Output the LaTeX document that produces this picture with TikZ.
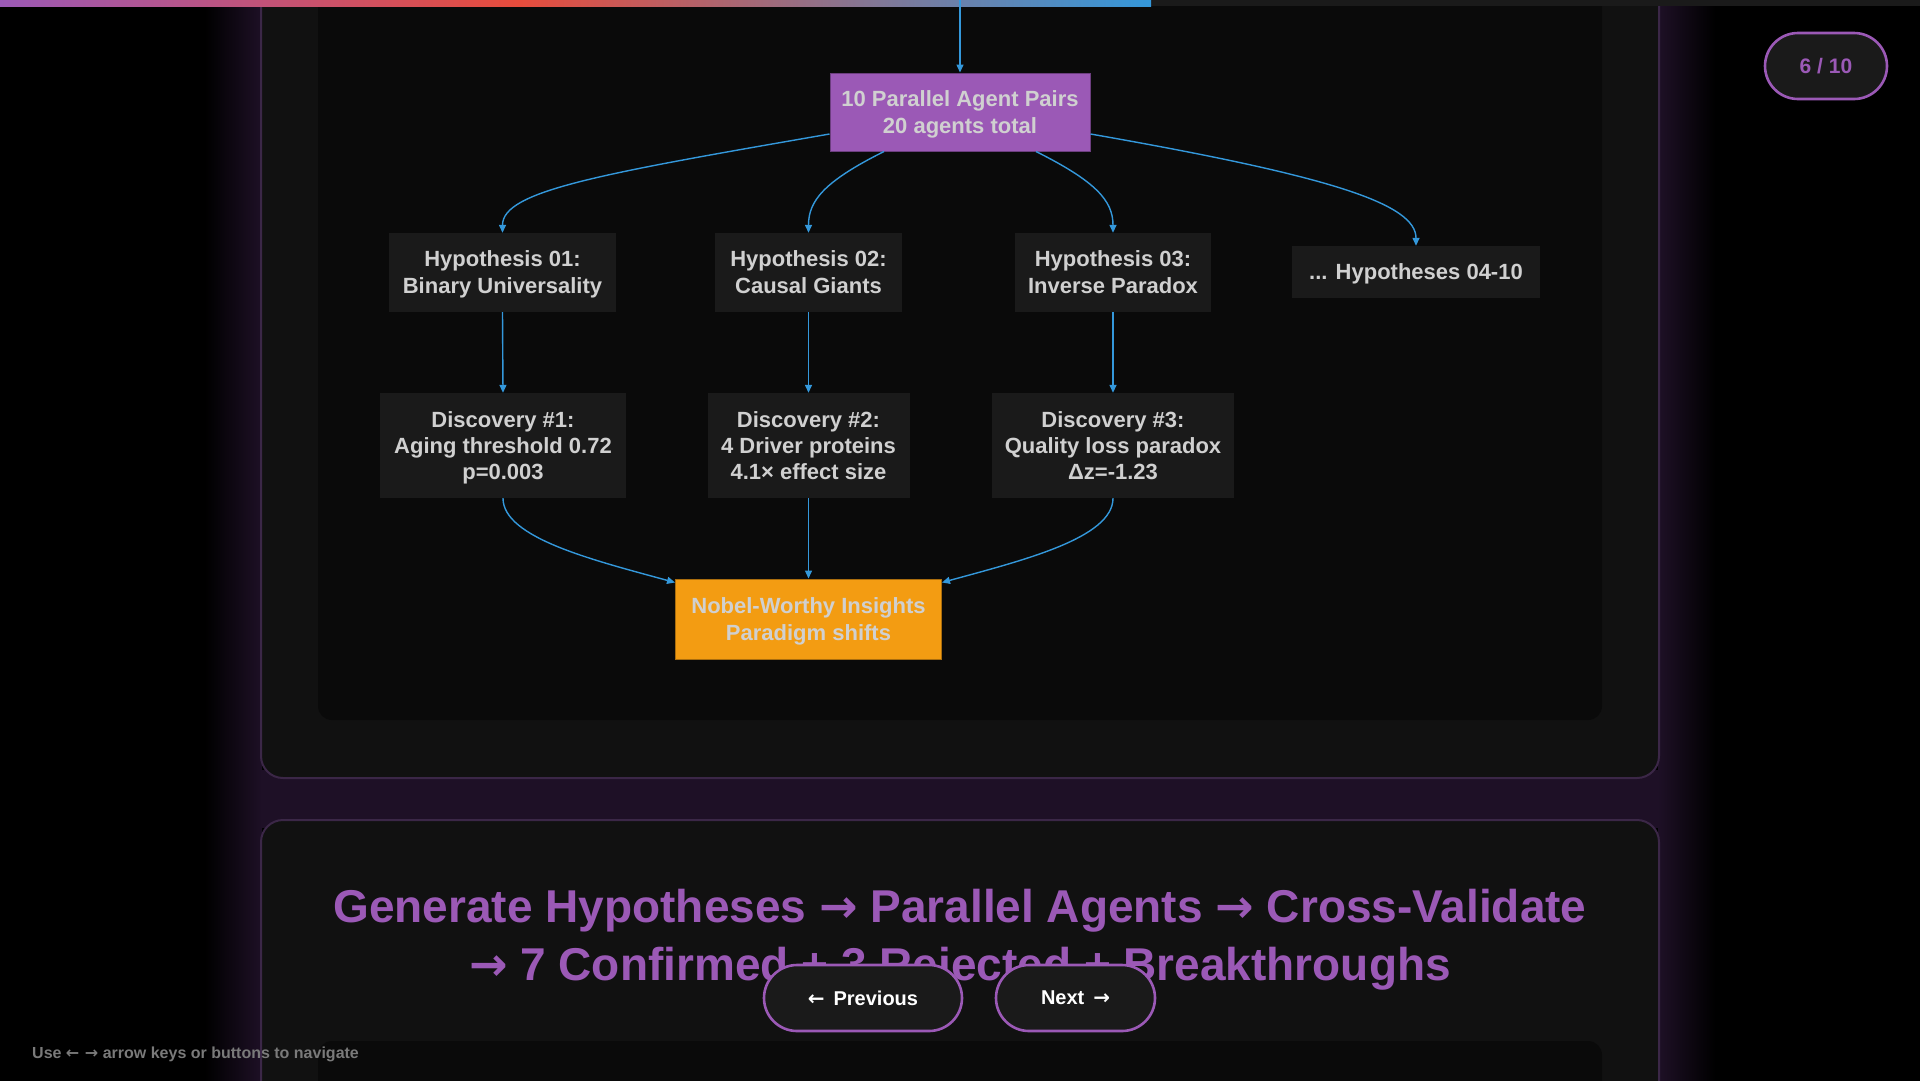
\documentclass[tikz,border=0pt]{standalone}
\usepackage{fontspec}
\setmainfont{Liberation Sans}
\newfontfamily\arrowfont{DejaVu Sans}
\usetikzlibrary{arrows.meta}
\definecolor{purp}{HTML}{9B59B6}
\definecolor{cred}{HTML}{E74C3C}
\definecolor{cblue}{HTML}{3498DB}
\definecolor{orng}{HTML}{F39C12}
\definecolor{nodegray}{HTML}{1A1A1A}
\definecolor{txt}{HTML}{D0D0D0}
\definecolor{panel}{HTML}{111111}
\definecolor{innerbg}{HTML}{0A0A0A}
\definecolor{pborder}{HTML}{3B2747}
\definecolor{glow}{HTML}{1E1026}
\definecolor{footgray}{HTML}{7A7A7A}
\pgfdeclarehorizontalshading{barshade}{100bp}{color(0bp)=(purp); color(25bp)=(purp); color(47.5bp)=(cred); color(75bp)=(cblue); color(100bp)=(cblue)}
\newcommand{\lnst}{\rule[-5.5pt]{0pt}{26pt}}
\tikzset{
  box/.style={fill=nodegray, text=txt, font=\bfseries\fontsize{22}{27}\selectfont, align=center, inner sep=0pt},
  conn/.style={draw=cblue, line width=1.4pt, -{Triangle[length=8pt,width=7pt]}},
  pill/.style={fill=nodegray, draw=purp, line width=2.6pt, rounded corners=33pt, inner sep=0pt, minimum height=66pt},
}
\begin{document}
\begin{tikzpicture}[x=1pt,y=-1pt]
\useasboundingbox (0,0) rectangle (1920,1080);
\fill[black] (-10,-10) rectangle (1930,1090);
\begin{scope}
\clip (0,0) rectangle (1920,1080);
% glow
\shade[left color=black, right color=glow] (205,-10) rectangle (262,1090);
\shade[left color=glow, right color=black] (1658,-10) rectangle (1715,1090);
\fill[glow] (261,770) rectangle (1659,828);
% panels
\draw[pborder, fill=panel, line width=2pt, rounded corners=22pt] (261,-40) rectangle (1659,778);
\fill[innerbg, rounded corners=14pt] (318,-40) rectangle (1602,720);
\draw[pborder, fill=panel, line width=2pt, rounded corners=22pt] (261,820) rectangle (1659,1120);
\fill[innerbg, rounded corners=14pt] (318,1041) rectangle (1602,1120);
% top bar
\fill[nodegray] (0,0) rectangle (1920,6);
\shade[shading=barshade] (0,0) rectangle (1151,6);
\end{scope}
% nodes
\node[box, fill=purp, draw=purp!70!black, line width=1pt, minimum width=260pt, minimum height=78pt] (agent) at (960,112) {\lnst 10 Parallel Agent Pairs\\\lnst 20 agents total};
\node[box, minimum width=227pt, minimum height=79pt] (h1) at (502.5,272.5) {\lnst Hypothesis 01:\\\lnst Binary Universality};
\node[box, minimum width=187pt, minimum height=79pt] (h2) at (808.5,272.5) {\lnst Hypothesis 02:\\\lnst Causal Giants};
\node[box, minimum width=196pt, minimum height=79pt] (h3) at (1113,272.5) {\lnst Hypothesis 03:\\\lnst Inverse Paradox};
\node[box, minimum width=248pt, minimum height=52pt] (h4) at (1416,272) {\lnst ... Hypotheses 04-10};
\node[box, minimum width=246pt, minimum height=105pt, font=\bfseries\fontsize{22}{26}\selectfont] (d1) at (503,445.5) {\lnst Discovery \#1:\\\lnst Aging threshold 0.72\\\lnst p=0.003};
\node[box, minimum width=202pt, minimum height=105pt, font=\bfseries\fontsize{22}{26}\selectfont] (d2) at (808.5,445.5) {\lnst Discovery \#2:\\\lnst 4 Driver proteins\\\lnst 4.1× effect size};
\node[box, minimum width=242pt, minimum height=105pt, font=\bfseries\fontsize{22}{26}\selectfont] (d3) at (1113,445.5) {\lnst Discovery \#3:\\\lnst Quality loss paradox\\\lnst Δz=-1.23};
\node[box, fill=orng, draw=orng!70!black, line width=1pt, minimum width=266pt, minimum height=80pt] (nobel) at (808.5,619) {\lnst Nobel-Worthy Insights\\\lnst Paradigm shifts};
% connectors
\coordinate (topin) at (960,0);
\draw[conn] (topin) -- (agent.north);
\draw[conn] ([yshift=-22pt]agent.west) .. controls +(-230,40) and +(0,-42) .. (h1.north);
\draw[conn] ([xshift=-76pt]agent.south) .. controls +(-60,30) and +(0,-32) .. (h2.north);
\draw[conn] ([xshift=76pt]agent.south) .. controls +(60,30) and +(0,-32) .. (h3.north);
\draw[conn] ([yshift=-22pt]agent.east) .. controls +(240,42) and +(0,-42) .. (h4.north);
\draw[conn] (h1.south) -- (d1.north);
\draw[conn] (h2.south) -- (d2.north);
\draw[conn] (h3.south) -- (d3.north);
\draw[conn] (d1.south) .. controls +(0,40) and +(-80,-22) .. ([yshift=-4pt]nobel.north west);
\draw[conn] (d2.south) -- (nobel.north);
\draw[conn] (d3.south) .. controls +(0,40) and +(80,-22) .. ([yshift=-4pt]nobel.north east);
% badge
\node[pill, minimum width=122pt, text=purp, font=\bfseries\fontsize{21}{25}\selectfont] (badge) at (1826,66) {6 / 10};
% title
\node[text=purp, font=\bfseries\fontsize{46}{54}\selectfont] (t1) at (960,911) {Generate Hypotheses {\arrowfont →} Parallel Agents {\arrowfont →} Cross-Validate};
\node[text=purp, font=\bfseries\fontsize{46}{54}\selectfont] (t2) at (960,969) {{\arrowfont →} 7 Confirmed + 3 Rejected + Breakthroughs};
% buttons
\node[pill, minimum width=198pt, text=white, font=\bfseries\fontsize{20}{24}\selectfont] (prev) at (863,998) {{\arrowfont ←}\, Previous};
\node[pill, minimum width=159pt, text=white, font=\bfseries\fontsize{20}{24}\selectfont] (next) at (1075.5,998) {Next\, {\arrowfont →}};
% footer
\node[anchor=west, inner sep=0pt, text=footgray, font=\bfseries\fontsize{16}{20}\selectfont] (foot) at (32,1054) {Use {\arrowfont ← →} arrow keys or buttons to navigate};
\end{tikzpicture}
\end{document}
